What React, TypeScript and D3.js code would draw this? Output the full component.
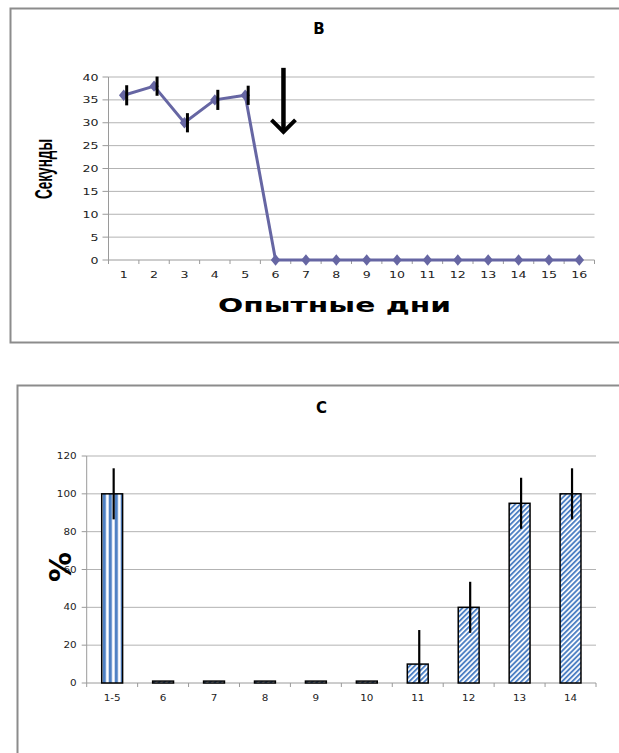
import React from 'react';
import * as d3 from 'd3';

// ---- Chart B data ----
const daysB = ['1', '2', '3', '4', '5', '6', '7', '8', '9', '10', '11', '12', '13', '14', '15', '16'];
const secondsB = [36, 38, 30, 35, 36, 0, 0, 0, 0, 0, 0, 0, 0, 0, 0, 0];
const errorB = [2.2, 2.1, 2.1, 2.2, 2.1, 0, 0, 0, 0, 0, 0, 0, 0, 0, 0, 0];
const yTicksB = [0, 5, 10, 15, 20, 25, 30, 35, 40];
const arrowB = { day: '6', top: 42, tip: 28 };

// ---- Chart C data ----
const groupsC = ['1-5', '6', '7', '8', '9', '10', '11', '12', '13', '14'];
const percentC = [100, 1, 1, 1, 1, 1, 10, 40, 95, 100];
const errorC = [13.5, 0, 0, 0, 0, 0, 18, 13.5, 13.5, 13.5];
const yTicksC = [0, 20, 40, 60, 80, 100, 120];

const GRID = '#b3b3b3';
const AXIS = '#9a9a9a';
const FRAME = '#8c8c8c';
const LINE = '#6666a3';
const BLUE = '#4f81c4';
const TICKFONT = 'DejaVu Sans, Verdana, sans-serif';

function ChartB() {
  const x = d3.scaleBand<string>().domain(daysB).range([108.5, 594.5]);
  const y = d3.scaleLinear().domain([0, 40]).range([260, 77]);
  const cx = (d: string) => (x(d) as number) + x.bandwidth() / 2;
  const line = d3
    .line<number>()
    .x((_, i) => cx(daysB[i]))
    .y((d) => y(d));
  const [x0, x1] = x.range();
  const ax = (x(arrowB.day) as number) + x.bandwidth() * 0.76;
  const diamond = d3.symbol().type(d3.symbolDiamond).size(46)();
  return (
    <g>
      <rect x={10.5} y={8.5} width={640} height={334} fill="#fff" stroke={FRAME} strokeWidth={2} />
      <text x={319} y={34} textAnchor="middle" fontFamily="DejaVu Sans, sans-serif" fontWeight="bold" fontSize={15}>
        B
      </text>
      {yTicksB.map((t) => (
        <g key={t}>
          {t > 0 && <line x1={x0} x2={x1} y1={y(t)} y2={y(t)} stroke={GRID} strokeWidth={1} />}
          <line x1={x0 - 6} x2={x0} y1={y(t)} y2={y(t)} stroke={AXIS} />
          <text
            transform={`translate(${x0 - 10},${y(t) + 3.5}) scale(1.4,1)`}
            textAnchor="end"
            fontFamily={TICKFONT}
            fontSize={9}
            fill="#222"
          >
            {t}
          </text>
        </g>
      ))}
      <line x1={x0} x2={x0} y1={y(40)} y2={y(0)} stroke={AXIS} />
      <line x1={x0} x2={x1} y1={y(0)} y2={y(0)} stroke={AXIS} />
      {daysB.map((d) => (
        <line key={'t' + d} x1={x(d) as number} x2={x(d) as number} y1={y(0)} y2={y(0) + 4} stroke={AXIS} />
      ))}
      <line x1={x1} x2={x1} y1={y(0)} y2={y(0) + 4} stroke={AXIS} />
      {daysB.map((d) => (
        <text
          key={'l' + d}
          transform={`translate(${cx(d)},${y(0) + 18}) scale(1.4,1)`}
          textAnchor="middle"
          fontFamily={TICKFONT}
          fontSize={9}
          fill="#222"
        >
          {d}
        </text>
      ))}
      <path d={line(secondsB) as string} fill="none" stroke={LINE} strokeWidth={3} />
      {secondsB.map((v, i) => (
        <path key={'m' + i} d={diamond as string} transform={`translate(${cx(daysB[i])},${y(v)}) scale(1.3,0.9)`} fill={LINE} />
      ))}
      {errorB.map((e, i) =>
        e > 0 ? (
          <line
            key={'e' + i}
            x1={cx(daysB[i]) + 3}
            x2={cx(daysB[i]) + 3}
            y1={y(secondsB[i] + e)}
            y2={y(secondsB[i] - e)}
            stroke="#000"
            strokeWidth={3}
          />
        ) : null
      )}
      {/* arrow annotation */}
      <line x1={ax} x2={ax} y1={y(arrowB.top)} y2={y(arrowB.tip) - 2} stroke="#000" strokeWidth={4.5} />
      <polyline
        points={`${ax - 12},${y(arrowB.tip) - 12} ${ax},${y(arrowB.tip)} ${ax + 12},${y(arrowB.tip) - 12}`}
        fill="none"
        stroke="#000"
        strokeWidth={4}
      />
      <text
        transform={`translate(44,169) rotate(-90)`}
        textAnchor="middle"
        fontFamily="Liberation Sans Narrow, Arial Narrow, sans-serif"
        fontWeight="bold"
        fontSize={24}
        textLength={60}
        lengthAdjust="spacingAndGlyphs"
        dy="0.35em"
      >
        Секунды
      </text>
      <text
        x={334.5}
        y={312}
        textAnchor="middle"
        fontFamily="DejaVu Sans, Verdana, sans-serif"
        fontWeight="bold"
        fontSize={20}
        textLength={233}
        lengthAdjust="spacingAndGlyphs"
      >
        Опытные дни
      </text>
    </g>
  );
}

function ChartC() {
  const x = d3.scaleBand<string>().domain(groupsC).range([86.7, 596]);
  const y = d3.scaleLinear().domain([0, 120]).range([683, 456]).clamp(true);
  const [x0, x1] = x.range();
  const bw = x.bandwidth() * 0.41;
  const cx = (d: string) => (x(d) as number) + x.bandwidth() / 2;
  return (
    <g>
      <rect x={17.5} y={385.5} width={640} height={420} fill="#fff" stroke={FRAME} strokeWidth={2} />
      <text x={321.5} y={413} textAnchor="middle" fontFamily="DejaVu Sans, sans-serif" fontWeight="bold" fontSize={15}>
        C
      </text>
      {yTicksC.map((t) => (
        <g key={t}>
          {t > 0 && <line x1={x0} x2={x1} y1={y(t)} y2={y(t)} stroke={GRID} strokeWidth={1} />}
          <line x1={x0 - 5} x2={x0} y1={y(t)} y2={y(t)} stroke={AXIS} />
          <text
            transform={`translate(${x0 - 10},${y(t) + 3}) scale(1.3,1)`}
            textAnchor="end"
            fontFamily={TICKFONT}
            fontSize={8}
            fill="#222"
          >
            {t}
          </text>
        </g>
      ))}
      <line x1={x0} x2={x0} y1={y(120)} y2={y(0)} stroke={AXIS} />
      <line x1={x0} x2={x1} y1={y(0)} y2={y(0)} stroke={AXIS} />
      {groupsC.map((d) => (
        <line key={'t' + d} x1={x(d) as number} x2={x(d) as number} y1={y(0)} y2={y(0) + 4} stroke={AXIS} />
      ))}
      <line x1={x1} x2={x1} y1={y(0)} y2={y(0) + 4} stroke={AXIS} />
      {groupsC.map((d) => (
        <text
          key={'l' + d}
          transform={`translate(${cx(d)},${y(0) + 18}) scale(1.3,1)`}
          textAnchor="middle"
          fontFamily={TICKFONT}
          fontSize={8}
          fill="#222"
        >
          {d}
        </text>
      ))}
      {percentC.map((v, i) => (
        <rect
          key={'b' + i}
          x={cx(groupsC[i]) - bw / 2}
          y={y(v)}
          width={bw}
          height={y(0) - y(v)}
          fill={i === 0 ? 'url(#vstripe)' : 'url(#diag)'}
          stroke="#000"
          strokeWidth={1.5}
        />
      ))}
      {errorC.map((e, i) =>
        e > 0 ? (
          <line
            key={'e' + i}
            x1={cx(groupsC[i]) + 1.5}
            x2={cx(groupsC[i]) + 1.5}
            y1={y(percentC[i] + e)}
            y2={y(percentC[i] - e)}
            stroke="#000"
            strokeWidth={2.2}
          />
        ) : null
      )}
      <text
        transform={`translate(60,567) rotate(-90)`}
        textAnchor="middle"
        fontFamily="DejaVu Sans, sans-serif"
        fontWeight="bold"
        fontSize={30}
        dy="0.35em"
      >
        %
      </text>
    </g>
  );
}

export default function App() {
  return (
    <svg
      width={619}
      height={753}
      viewBox="0 0 619 753"
      style={{ position: 'absolute', left: 0, top: 0, background: '#fff' }}
    >
      <defs>
        <pattern id="vstripe" width={6} height={6} patternUnits="userSpaceOnUse" x={0.7}>
          <rect width={6} height={6} fill="#fff" />
          <rect width={3.2} height={6} fill={BLUE} />
        </pattern>
        <pattern id="diag" width={3.6} height={3.6} patternUnits="userSpaceOnUse" patternTransform="rotate(45)">
          <rect width={3.6} height={3.6} fill="#fff" />
          <rect width={1.9} height={3.6} fill={BLUE} />
        </pattern>
      </defs>
      <rect width={619} height={753} fill="#fff" />
      <ChartB />
      <ChartC />
    </svg>
  );
}
